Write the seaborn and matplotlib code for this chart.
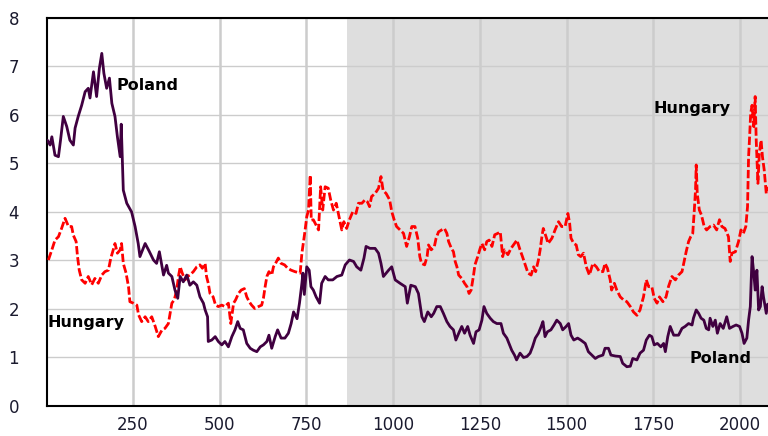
import numpy as np
import pandas as pd
import seaborn as sns
import matplotlib.pyplot as plt

pol_x = [3, 11, 16, 25, 35, 41, 49, 59, 68, 78, 83, 92, 102, 112, 121, 126, 136, 145, 153, 160,
         166, 174, 182, 189, 198, 205, 213, 216, 222, 232, 246, 256, 265, 270, 285, 296, 309, 318, 326, 338,
         347, 352, 362, 371, 379, 386, 395, 405, 414, 424, 434, 443, 453, 458, 465, 467, 477, 487, 496, 506,
         515, 525, 535, 544, 552, 559, 568, 573, 578, 588, 597, 607, 617, 626, 636, 642, 650, 660, 667, 677,
         688, 698, 706, 713, 723, 730, 737, 740, 744, 751, 758, 763, 770, 778, 788, 794, 804, 813, 826, 838,
         852, 862, 874, 886, 895, 907, 916, 922, 933, 948, 958, 965, 972, 987, 996, 1006, 1020, 1035, 1041, 1051,
         1064, 1073, 1078, 1083, 1090, 1100, 1110, 1117, 1126, 1136, 1145, 1155, 1164, 1174, 1181, 1191, 1198, 1206, 1215, 1222,
         1232, 1239, 1248, 1256, 1262, 1270, 1280, 1289, 1299, 1311, 1318, 1328, 1336, 1342, 1350, 1356, 1366, 1376, 1386, 1395,
         1402, 1410, 1419, 1427, 1432, 1438, 1445, 1455, 1464, 1472, 1482, 1489, 1499, 1506, 1513, 1521, 1532, 1541, 1554, 1563,
         1573, 1583, 1592, 1605, 1611, 1621, 1628, 1641, 1655, 1662, 1674, 1684, 1691, 1703, 1712, 1722, 1730, 1739, 1746, 1753,
         1762, 1772, 1780, 1785, 1792, 1799, 1809, 1823, 1833, 1842, 1852, 1862, 1866, 1874, 1881, 1888, 1896, 1903, 1910, 1914,
         1922, 1929, 1935, 1943, 1952, 1962, 1970, 1980, 1989, 1999, 2006, 2012, 2020, 2025, 2030, 2035, 2040, 2044, 2049, 2054,
         2059, 2064, 2068, 2076, 2080]
pol_y = [5.48, 5.38, 5.55, 5.17, 5.14, 5.48, 5.97, 5.76, 5.48, 5.38, 5.73, 5.97, 6.2, 6.48, 6.55, 6.35, 6.89, 6.38, 6.96, 7.27,
         6.86, 6.55, 6.76, 6.24, 5.97, 5.55, 5.14, 5.81, 4.45, 4.18, 4.0, 3.7, 3.35, 3.08, 3.35, 3.2, 3.01, 2.94, 3.18, 2.7,
         2.9, 2.74, 2.67, 2.39, 2.22, 2.67, 2.56, 2.7, 2.49, 2.56, 2.49, 2.25, 2.12, 1.98, 1.84, 1.33, 1.36, 1.43, 1.33, 1.26,
         1.33, 1.22, 1.43, 1.57, 1.74, 1.6, 1.57, 1.43, 1.29, 1.19, 1.15, 1.12, 1.22, 1.26, 1.33, 1.46, 1.19, 1.43, 1.57, 1.4,
         1.4, 1.5, 1.7, 1.94, 1.8, 2.12, 2.53, 2.74, 2.3, 2.87, 2.8, 2.46, 2.39, 2.25, 2.12, 2.53, 2.67, 2.6, 2.6, 2.67,
         2.7, 2.91, 3.01, 2.98, 2.87, 2.8, 3.05, 3.29, 3.25, 3.25, 3.15, 2.94, 2.67, 2.8, 2.87, 2.6, 2.53, 2.46, 2.12, 2.49,
         2.46, 2.32, 2.08, 1.84, 1.74, 1.94, 1.84, 1.91, 2.05, 2.05, 1.91, 1.74, 1.64, 1.57, 1.36, 1.53, 1.64, 1.5, 1.64, 1.46,
         1.29, 1.53, 1.57, 1.77, 2.05, 1.91, 1.81, 1.74, 1.7, 1.7, 1.5, 1.4, 1.26, 1.15, 1.05, 0.95, 1.09, 1.0, 1.02, 1.09,
         1.22, 1.4, 1.5, 1.64, 1.74, 1.43, 1.53, 1.57, 1.67, 1.77, 1.7, 1.57, 1.64, 1.7, 1.46, 1.36, 1.4, 1.36, 1.29, 1.12,
         1.05, 0.98, 1.02, 1.05, 1.19, 1.19, 1.05, 1.03, 1.02, 0.88, 0.81, 0.82, 0.98, 0.95, 1.09, 1.15, 1.36, 1.46, 1.43, 1.26,
         1.29, 1.22, 1.29, 1.12, 1.43, 1.64, 1.46, 1.46, 1.6, 1.64, 1.7, 1.67, 1.81, 1.98, 1.91, 1.81, 1.77, 1.6, 1.57, 1.81,
         1.64, 1.77, 1.5, 1.7, 1.6, 1.84, 1.6, 1.64, 1.67, 1.64, 1.5, 1.29, 1.4, 1.77, 2.05, 3.08, 2.74, 2.39, 2.8, 1.98,
         2.05, 2.46, 2.25, 1.91, 2.1]

hun_x = [6, 16, 25, 35, 44, 54, 64, 73, 78, 86, 90, 95, 102, 112, 121, 131, 140, 150, 160, 169,
         179, 186, 193, 198, 205, 213, 217, 222, 230, 237, 241, 251, 261, 266, 275, 285, 294, 304, 314, 323,
         333, 342, 352, 357, 362, 369, 376, 381, 386, 392, 400, 407, 414, 424, 434, 443, 450, 458, 462, 467,
         472, 481, 488, 496, 506, 515, 525, 532, 540, 546, 554, 562, 571, 578, 585, 592, 601, 612, 621, 626,
         631, 636, 642, 650, 655, 661, 669, 677, 687, 696, 706, 717, 732, 737, 741, 745, 751, 756, 761, 764,
         770, 778, 785, 791, 797, 804, 813, 820, 828, 836, 846, 852, 858, 866, 874, 884, 893, 900, 910, 919,
         926, 932, 938, 948, 958, 965, 971, 980, 990, 996, 1003, 1010, 1020, 1030, 1039, 1047, 1054, 1063, 1071, 1077,
         1082, 1091, 1098, 1102, 1110, 1119, 1124, 1131, 1140, 1148, 1155, 1160, 1168, 1174, 1179, 1184, 1189, 1198, 1206, 1213,
         1219, 1225, 1232, 1236, 1244, 1251, 1256, 1264, 1270, 1277, 1285, 1293, 1302, 1309, 1316, 1321, 1331, 1340, 1350, 1357,
         1366, 1373, 1381, 1389, 1398, 1405, 1411, 1419, 1424, 1429, 1433, 1441, 1447, 1458, 1467, 1477, 1486, 1496, 1504, 1509,
         1513, 1521, 1528, 1534, 1541, 1549, 1557, 1566, 1576, 1586, 1595, 1605, 1611, 1618, 1626, 1630, 1638, 1645, 1655, 1664,
         1674, 1684, 1693, 1703, 1712, 1717, 1722, 1730, 1737, 1746, 1753, 1761, 1768, 1778, 1787, 1794, 1804, 1814, 1823, 1833,
         1839, 1845, 1852, 1858, 1864, 1868, 1872, 1874, 1877, 1883, 1889, 1897, 1904, 1914, 1924, 1933, 1941, 1948, 1957, 1967,
         1972, 1977, 1987, 1996, 2003, 2010, 2017, 2022, 2025, 2028, 2031, 2035, 2040, 2044, 2047, 2052, 2056, 2061, 2065, 2070,
         2076, 2080]
hun_y = [3.01, 3.22, 3.42, 3.49, 3.66, 3.87, 3.7, 3.7, 3.52, 3.39, 3.08, 2.8, 2.6, 2.53, 2.67, 2.5, 2.63, 2.53, 2.7, 2.77,
         2.8, 3.05, 3.22, 3.35, 3.15, 3.22, 3.35, 2.94, 2.74, 2.46, 2.15, 2.12, 2.08, 1.88, 1.74, 1.84, 1.74, 1.84, 1.64, 1.43,
         1.56, 1.6, 1.7, 1.91, 2.12, 2.19, 2.39, 2.67, 2.87, 2.74, 2.6, 2.67, 2.7, 2.77, 2.87, 2.91, 2.84, 2.94, 2.67, 2.53,
         2.32, 2.25, 2.08, 2.05, 2.08, 2.05, 2.12, 1.7, 2.12, 2.19, 2.32, 2.39, 2.42, 2.25, 2.15, 2.08, 2.01, 2.05, 2.08, 2.22,
         2.46, 2.67, 2.77, 2.7, 2.87, 2.94, 3.05, 2.94, 2.91, 2.84, 2.8, 2.77, 2.74, 3.15, 3.35, 3.56, 3.9, 4.04, 4.76, 3.83,
         3.84, 3.73, 3.63, 4.52, 4.04, 4.52, 4.49, 4.25, 4.04, 4.18, 3.84, 3.63, 3.8, 3.66, 3.84, 4.01, 3.97, 4.18, 4.18, 4.25,
         4.21, 4.11, 4.32, 4.38, 4.49, 4.73, 4.45, 4.38, 4.25, 4.01, 3.84, 3.7, 3.63, 3.56, 3.29, 3.49, 3.7, 3.7, 3.46, 3.08,
         2.94, 2.91, 3.08, 3.32, 3.22, 3.29, 3.46, 3.59, 3.63, 3.66, 3.56, 3.39, 3.25, 3.18, 2.98, 2.87, 2.7, 2.63, 2.53, 2.46,
         2.32, 2.39, 2.7, 2.91, 3.08, 3.25, 3.35, 3.22, 3.39, 3.42, 3.29, 3.53, 3.56, 3.59, 3.08, 3.22, 3.12, 3.25, 3.35, 3.42,
         3.22, 3.08, 2.91, 2.74, 2.7, 2.87, 2.77, 3.01, 3.22, 3.49, 3.66, 3.49, 3.35, 3.46, 3.63, 3.8, 3.7, 3.7, 3.97, 3.77,
         3.46, 3.35, 3.32, 3.12, 3.08, 3.15, 2.87, 2.7, 2.94, 2.87, 2.77, 2.77, 2.94, 2.84, 2.6, 2.39, 2.53, 2.39, 2.25, 2.19,
         2.15, 2.05, 1.94, 1.87, 1.98, 2.12, 2.25, 2.6, 2.46, 2.46, 2.22, 2.12, 2.25, 2.15, 2.25, 2.46, 2.67, 2.6, 2.7, 2.77,
         2.98, 3.18, 3.39, 3.49, 3.56, 3.98, 4.45, 4.97, 4.38, 4.04, 3.94, 3.7, 3.63, 3.7, 3.73, 3.63, 3.84, 3.7, 3.66, 3.49,
         2.98, 3.15, 3.18, 3.39, 3.63, 3.56, 3.7, 4.11, 5.14, 5.55, 6.03, 6.2, 5.76, 6.38, 5.48, 4.59, 5.21, 5.48, 5.14, 4.87,
         4.38, 4.52]

x_ticks = [250, 500, 750, 1000, 1250, 1500, 1750, 2000]
y_ticks = [0, 1, 2, 3, 4, 5, 6, 7, 8]
shade_start = 867

poland = pd.DataFrame({"t": pol_x, "val": pol_y})
hungary = pd.DataFrame({"t": hun_x, "val": hun_y})

sns.set_style("white")
plt.rcParams['font.family'] = ['DejaVu Sans']

fig = plt.figure(figsize=(7.68, 4.36), dpi=100)
ax = fig.add_axes([0.0612, 0.0688, 0.9388, 0.89])

ax.axvspan(shade_start, 2100, color="#dedede", zorder=0, lw=0)

sns.lineplot(data=hungary, x="t", y="val", ax=ax, color="#ff0000", lw=2,
             linestyle=(0, (3, 1)), estimator=None, zorder=3)
sns.lineplot(data=poland, x="t", y="val", ax=ax, color="#400040", lw=2,
             estimator=None, zorder=4)

ax.set_xlim(2, 2081)
ax.set_ylim(0, 8)
ax.set_xticks(x_ticks)
ax.set_yticks(y_ticks)
ax.set_xlabel("")
ax.set_ylabel("")

ax.set_axisbelow(True)
ax.grid(axis="x", color="#cccccc", lw=1.8)
ax.grid(axis="y", color="#cccccc", lw=1.0)

for s in ["left", "bottom", "top"]:
    ax.spines[s].set_color("black")
    ax.spines[s].set_linewidth(1.5)
ax.spines["right"].set_visible(False)

ax.tick_params(axis="y", direction="out", length=10, width=1.5, color="black",
               labelsize=12, pad=10, labelcolor="#1a1a2e")
ax.tick_params(axis="x", direction="out", length=6, width=1.5, color="black",
               labelsize=12, pad=1.5, labelcolor="#1a1a2e")

lab = dict(fontsize=11.5, fontweight="bold", color="black", va="center", ha="left")
ax.text(201, 6.6, "Poland", **lab)
ax.text(1750, 6.14, "Hungary", **lab)
ax.text(2, 1.73, "Hungary", **lab)
ax.text(1854, 0.97, "Poland", **lab)

plt.savefig("out.png", dpi=100)
